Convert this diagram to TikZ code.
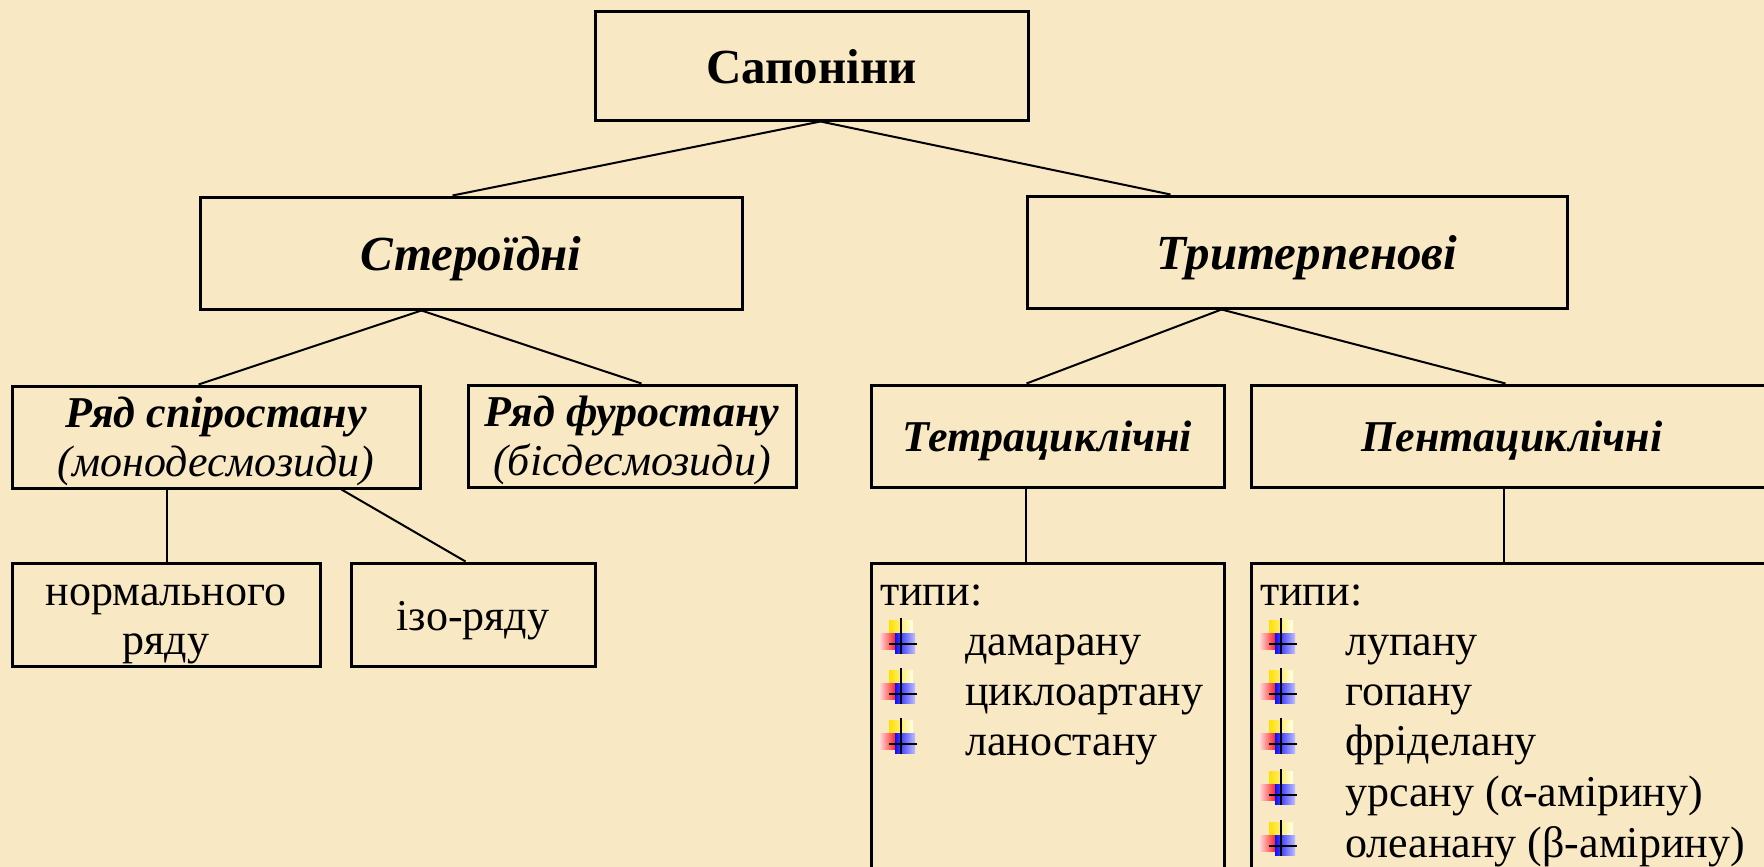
\documentclass[tikz,border=0pt]{standalone}
\usepackage{fontspec}
\setmainfont{Liberation Serif}
\usetikzlibrary{calc}
\definecolor{bgcol}{RGB}{248,232,195}
\newcommand\twolines[2]{\rule{0pt}{40pt}#1\\#2\rule[-10pt]{0pt}{10pt}}
\tikzset{
  box/.style={draw=black, line width=3pt, rectangle, inner sep=0pt, align=center},
  conn/.style={draw=black, line width=2pt},
  bigtxt/.style={font=\fontsize{49}{56}\selectfont, text height=44pt, text depth=10pt},
  midtxt/.style={font=\fontsize{44}{50}\selectfont, text height=40pt, text depth=9pt},
  twotxt/.style={font=\fontsize{44}{49}\selectfont},
  itemtxt/.style={font=\fontsize{44}{50}\selectfont, anchor=base west, inner sep=0pt},
  bul/.pic={
    \shade[left color=yellow!75!orange, right color=yellow!8!white] (-12,-24) rectangle (12,-9);
    \shade[left color=red!12!white, right color=red!85] (-22,-11) rectangle (-6,5);
    \shade[left color=blue!95, right color=blue!25!white] (-6,-11) rectangle (14,9);
    \draw[line width=1.6pt] (0,-26) -- (0,10);
    \draw[line width=1.6pt] (-12,0) -- (16,0);
  }
}
\begin{document}
\begin{tikzpicture}[x=1pt,y=-1pt]
\useasboundingbox (0,0) rectangle (1764,867);
\fill[bgcol] (0,0) rectangle (1764,867);
\clip (0,0) rectangle (1764,867);

% boxes
\node[box, bigtxt, minimum width=433pt, minimum height=108pt] (sap) at (811.5,66) {\textbf{Сапоніни}};
\node[box, bigtxt, minimum width=542pt, minimum height=112pt] (ster) at (471,253) {\textbf{\textit{Стероїдні}}};
\node[box, bigtxt, minimum width=540pt, minimum height=112pt] (trit) at (1297,252) {\hspace*{20pt}\textbf{\textit{Тритерпенові}}};
\node[box, twotxt, minimum width=408pt, minimum height=102pt] (spir) at (216,437) {\twolines{\textbf{\textit{Ряд спіростану}}}{\textit{(монодесмозиди)}}};
\node[box, twotxt, minimum width=328pt, minimum height=102pt] (furo) at (632,436) {\twolines{\textbf{\textit{Ряд фуростану}}}{\textit{(бісдесмозиди)}}};
\node[box, midtxt, minimum width=353pt, minimum height=102pt] (tetra) at (1047.5,436) {\textbf{\textit{Тетрациклічні}}};
\node[box, midtxt, minimum width=522pt, minimum height=102pt] (penta) at (1512,436) {\textbf{\textit{Пентациклічні}}};
\node[box, twotxt, minimum width=308pt, minimum height=103pt] (norm) at (166,614.5) {\twolines{нормального}{ряду}};
\node[box, midtxt, minimum width=244pt, minimum height=103pt] (izo) at (473,614.5) {ізо-ряду};
\node[box, minimum width=353pt, minimum height=437pt] (ttyp) at (1047.5,781.5) {};
\node[box, minimum width=522pt, minimum height=437pt] (ptyp) at (1512,781.5) {};

% connectors
\draw[conn] ($(sap.south west)+(227,0)$) -- ($(ster.north west)+(254,0)$);
\draw[conn] ($(sap.south west)+(227,0)$) -- ($(trit.north west)+(145,0)$);
\draw[conn] ($(ster.south west)+(223,0)$) -- ($(spir.north west)+(188,0)$);
\draw[conn] ($(ster.south west)+(223,0)$) -- ($(furo.north west)+(175,0)$);
\draw[conn] ($(trit.south west)+(196,0)$) -- ($(tetra.north west)+(157,0)$);
\draw[conn] ($(trit.south west)+(196,0)$) -- ($(penta.north west)+(256,0)$);
\draw[conn] ($(spir.south west)+(156,0)$) -- ($(norm.north west)+(156,0)$);
\draw[conn] ($(spir.south west)+(331,0)$) -- ($(izo.north west)+(116,0)$);
\draw[conn] ($(tetra.south west)+(156,0)$) -- ($(ttyp.north west)+(156,0)$);
\draw[conn] ($(penta.south west)+(254,0)$) -- ($(ptyp.north west)+(254,0)$);

% tetracyclic types
\node[itemtxt] (tt0) at (880,605) {типи:};
\pic at (901,644) {bul};
\node[itemtxt] (tt1) at (965,655) {дамарану};
\pic at (901,694) {bul};
\node[itemtxt] (tt2) at (965,705) {циклоартану};
\pic at (901,744) {bul};
\node[itemtxt] (tt3) at (965,755) {ланостану};

% pentacyclic types
\node[itemtxt] (pt0) at (1260,605) {типи:};
\pic at (1281,644) {bul};
\node[itemtxt] (pt1) at (1345,655) {лупану};
\pic at (1281,694) {bul};
\node[itemtxt] (pt2) at (1345,705) {гопану};
\pic at (1281,744) {bul};
\node[itemtxt] (pt3) at (1345,755) {фріделану};
\pic at (1281,795) {bul};
\node[itemtxt] (pt4) at (1345,806) {урсану (α-амірину)};
\pic at (1281,846) {bul};
\node[itemtxt] (pt5) at (1345,857) {олеанану (β-амірину)};
\end{tikzpicture}
\end{document}
